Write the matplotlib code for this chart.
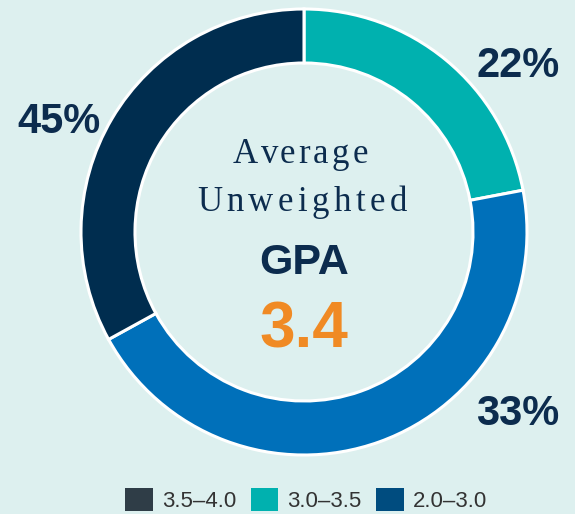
import matplotlib
matplotlib.use("Agg")
import matplotlib.pyplot as plt
from matplotlib.patches import Patch

# ---- data ----
# slice sizes as drawn in the reference (clockwise from 12 o'clock)
shares = [22, 45, 33]
slice_colors = ["#00B1AF", "#0070BA", "#002D4F"]
# percentage labels as printed in the reference
slice_labels = ["22%", "33%", "45%"]
legend_labels = ["3.5\u20134.0", "3.0\u20133.5", "2.0\u20133.0"]
legend_colors = ["#2F3D47", "#00B1AF", "#004C7F"]
title_lines = ["Average", "Unweighted"]
metric_name = "GPA"
metric_value = "3.4"

BG = "#DDF0EF"
NAVY = "#0C2C4E"
ORANGE = "#F08A24"

W, H = 575, 514
fig = plt.figure(figsize=(W / 100, H / 100), dpi=100, facecolor=BG)
ax = fig.add_axes([0, 0, 1, 1])
ax.set_facecolor(BG)

cx, cy = 304, H - 232
R, width = 223, 54
ax.pie(shares, colors=slice_colors, startangle=90, counterclock=False,
       center=(cx, cy), radius=R,
       wedgeprops=dict(width=width, edgecolor="white", linewidth=2.2))
ax.set_xlim(0, W)
ax.set_ylim(0, H)
ax.set_aspect("equal")
ax.axis("off")

# percentage labels (image coords -> data)
label_pos = [(518, 77), (518, 425), (58.5, 133)]
for lab, (x, yb) in zip(slice_labels, label_pos):
    ax.text(x, H - yb, lab, ha="center", va="baseline", fontsize=30,
            fontweight="bold", family="Liberation Sans", color=NAVY)

# letter-spaced serif lines
fig.canvas.draw()
renderer = fig.canvas.get_renderer()

def text_width(s, **kw):
    if not s:
        return 0.0
    t = ax.text(0, 0, s, **kw)
    bb = t.get_window_extent(renderer=renderer)
    t.remove()
    return bb.width

def spaced_text(s, xc, yb, target_w, **kw):
    n = len(s)
    natural = text_width(s, **kw)
    track = (target_w - natural) / max(n - 1, 1)
    x0 = xc - target_w / 2
    for i, ch in enumerate(s):
        x = x0 + text_width(s[:i], **kw) + i * track
        ax.text(x, H - yb, ch, ha="left", va="baseline", **kw)

serif_kw = dict(fontsize=25, family="Liberation Serif", color=NAVY)
spaced_text(title_lines[0], 300.5, 163, 135, **serif_kw)
spaced_text(title_lines[1], 302, 211, 210, **serif_kw)

ax.text(304, H - 274, metric_name, ha="center", va="baseline", fontsize=31,
        fontweight="bold", family="Liberation Sans", color=NAVY)
ax.text(304, H - 347, metric_value, ha="center", va="baseline", fontsize=46,
        fontweight="bold", family="Liberation Sans", color=ORANGE)

handles = [Patch(facecolor=c, edgecolor="none") for c in legend_colors]
leg = fig.legend(handles, legend_labels, loc="center",
                 bbox_to_anchor=(306 / W, 1 - 500 / H), ncol=3, frameon=False,
                 prop=dict(family="Liberation Sans", size=16),
                 handlelength=1.25, handleheight=1.2, handletextpad=0.4,
                 columnspacing=0.65, borderpad=0, borderaxespad=0)
for t in leg.get_texts():
    t.set_color("#333333")

fig.savefig("out.png", dpi=100, facecolor=BG)
